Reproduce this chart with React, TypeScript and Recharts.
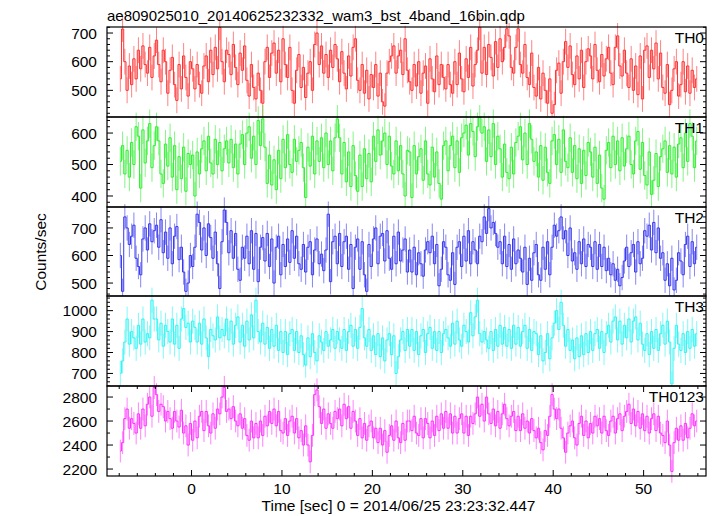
import { LineChart, Line, XAxis, YAxis, ErrorBar } from "recharts";

// 0.25 s bins from -8 s to 56 s (256 per band)
const N_BINS = 256;
const BIN = 0.25;
const TIME = Array.from({ length: N_BINS }, (_, i) => -8 + BIN * i + BIN / 2);

const TH0 = [
  540, 714, 600, 500, 585, 520, 610, 540, 640, 575, 655, 590, 560, 650, 545, 620,
  675, 590, 530, 640, 600, 490, 570, 615, 520, 465, 590, 505, 620, 545, 480, 600,
  575, 505, 590, 520, 490, 585, 620, 530, 640, 555, 650, 575, 720, 600, 530, 640,
  625, 555, 660, 580, 520, 630, 570, 655, 535, 480, 590, 510, 470, 560, 500, 455,
  600, 650, 545, 630, 665, 560, 640, 530, 680, 590, 545, 650, 500, 455, 570, 625,
  510, 580, 475, 560, 600, 500, 660, 700, 590, 655, 560, 625, 545, 640, 580, 660,
  610, 530, 635, 560, 505, 620, 550, 650, 680, 535, 500, 590, 490, 570, 470, 555,
  510, 590, 480, 560, 460, 445, 560, 600, 620, 655, 560, 620, 640, 555, 680, 570,
  530, 500, 590, 515, 600, 490, 560, 585, 455, 610, 540, 495, 620, 520, 590, 545,
  505, 590, 520, 490, 600, 520, 630, 540, 495, 610, 545, 650, 515, 590, 640, 720,
  560, 650, 555, 660, 615, 550, 670, 580, 680, 600, 650, 715, 690, 580, 560, 650,
  715, 590, 560, 660, 545, 520, 630, 510, 480, 580, 470, 560, 500, 455, 540, 420,
  450, 570, 595, 490, 600, 670, 580, 655, 555, 520, 620, 540, 640, 510, 600, 645,
  620, 540, 660, 570, 530, 625, 550, 610, 650, 560, 520, 650, 690, 585, 550, 640,
  560, 510, 610, 500, 585, 485, 620, 470, 640, 655, 545, 640, 575, 665, 540, 630,
  510, 490, 590, 450, 500, 575, 600, 480, 520, 600, 495, 585, 490, 570, 510, 540,
];

const TH1 = [
  510, 560, 470, 545, 460, 570, 500, 620, 590, 425, 610, 505, 575, 630, 490, 560,
  620, 575, 470, 440, 565, 495, 585, 460, 560, 420, 525, 455, 555, 415, 535, 500,
  530, 400, 540, 470, 550, 575, 480, 590, 505, 470, 580, 500, 570, 480, 550, 575,
  505, 580, 490, 565, 470, 565, 595, 500, 600, 620, 520, 590, 500, 640, 560, 645,
  555, 440, 530, 435, 515, 420, 545, 455, 580, 490, 595, 500, 475, 580, 510, 545,
  570, 490, 395, 555, 495, 590, 470, 575, 510, 585, 490, 600, 500, 575, 480, 585,
  645, 585, 470, 570, 445, 540, 430, 560, 465, 415, 530, 430, 550, 455, 535, 445,
  590, 510, 610, 530, 575, 600, 500, 590, 495, 470, 575, 480, 560, 470, 400, 545,
  540, 395, 560, 470, 525, 550, 450, 575, 470, 435, 555, 460, 540, 440, 390, 560,
  575, 480, 560, 590, 490, 575, 475, 585, 600, 625, 530, 630, 605, 525, 620, 650,
  600, 620, 510, 610, 525, 630, 500, 590, 550, 460, 565, 475, 455, 555, 470, 570,
  590, 620, 515, 600, 500, 630, 580, 510, 540, 460, 560, 450, 555, 475, 440, 575,
  595, 500, 580, 475, 610, 510, 490, 585, 475, 560, 455, 550, 440, 545, 465, 570,
  540, 460, 555, 440, 530, 425, 390, 545, 570, 490, 590, 500, 575, 480, 585, 495,
  550, 590, 500, 470, 575, 605, 485, 570, 465, 435, 540, 405, 450, 535, 430, 525,
  550, 575, 475, 560, 470, 555, 460, 565, 585, 490, 600, 510, 630, 590, 490, 575,
];

const TH2 = [
  600, 470, 740, 700, 640, 670, 710, 590, 560, 530, 660, 700, 620, 715, 650, 690,
  710, 630, 730, 610, 685, 590, 700, 570, 670, 705, 585, 630, 540, 470, 500, 600,
  560, 630, 750, 720, 620, 700, 600, 715, 665, 590, 685, 570, 480, 650, 765, 720,
  610, 690, 590, 680, 550, 510, 630, 590, 670, 570, 690, 550, 680, 505, 630, 665,
  580, 680, 560, 660, 500, 630, 670, 530, 640, 560, 660, 575, 690, 590, 670, 570,
  550, 640, 540, 630, 650, 530, 620, 660, 570, 605, 545, 620, 750, 505, 650, 670,
  570, 680, 560, 650, 670, 550, 640, 480, 630, 660, 550, 650, 530, 470, 640, 560,
  660, 700, 570, 670, 680, 580, 690, 590, 550, 670, 570, 685, 580, 620, 660, 540,
  620, 540, 630, 530, 610, 570, 525, 620, 650, 610, 670, 570, 640, 490, 550, 650,
  630, 530, 510, 610, 495, 630, 650, 560, 670, 580, 690, 570, 650, 620, 570, 670,
  650, 740, 680, 770, 700, 720, 680, 630, 650, 570, 670, 560, 640, 550, 660, 570,
  620, 590, 540, 630, 495, 590, 510, 610, 640, 530, 510, 630, 550, 650, 530, 630,
  710, 670, 690, 740, 660, 690, 600, 700, 580, 610, 550, 650, 570, 660, 560, 640,
  630, 560, 650, 550, 640, 560, 630, 545, 590, 530, 570, 510, 550, 490, 520, 580,
  630, 560, 610, 640, 540, 650, 570, 590, 690, 670, 710, 620, 720, 610, 700, 590,
  610, 510, 570, 490, 590, 475, 510, 610, 580, 530, 640, 670, 560, 650, 570, 630,
];

const TH3 = [
  700, 760, 850, 960, 840, 900, 870, 820, 930, 840, 960, 850, 890, 870, 1050, 960,
  960, 860, 940, 830, 930, 900, 850, 960, 840, 930, 820, 960, 1010, 920, 940, 850,
  950, 920, 850, 940, 840, 960, 870, 780, 910, 880, 860, 970, 870, 910, 880, 960,
  860, 950, 840, 930, 970, 850, 930, 830, 950, 860, 980, 870, 1050, 900, 850, 940,
  840, 920, 820, 910, 830, 930, 810, 900, 800, 900, 790, 890, 910, 810, 900, 800,
  880, 790, 740, 870, 780, 890, 800, 760, 880, 850, 810, 900, 830, 860, 910, 820,
  900, 860, 820, 910, 810, 900, 930, 830, 910, 820, 920, 1010, 870, 830, 910, 810,
  880, 790, 890, 780, 870, 760, 860, 890, 790, 880, 700, 780, 860, 900, 810, 910,
  830, 910, 810, 900, 790, 880, 910, 800, 890, 920, 820, 900, 810, 900, 800, 890,
  910, 870, 830, 940, 840, 950, 860, 830, 930, 900, 850, 990, 880, 970, 1050, 890,
  850, 900, 860, 820, 900, 810, 910, 830, 930, 840, 920, 830, 910, 820, 930, 840,
  920, 830, 900, 930, 820, 910, 810, 900, 890, 790, 880, 760, 800, 890, 770, 870,
  940, 1000, 910, 1040, 930, 830, 910, 810, 860, 770, 870, 780, 880, 790, 890, 800,
  900, 810, 890, 910, 820, 900, 800, 890, 930, 850, 950, 970, 860, 950, 840, 930,
  870, 960, 850, 950, 970, 860, 940, 840, 810, 890, 790, 900, 820, 910, 810, 890,
  930, 840, 950, 850, 650, 820, 930, 840, 810, 890, 800, 900, 820, 910, 830, 890,
];

const TH0123 = [
  2350, 2420, 2620, 2700, 2540, 2620, 2580, 2500, 2660, 2540, 2700, 2560, 2740, 2800, 2640, 2880,
  2820, 2680, 2740, 2720, 2600, 2680, 2620, 2540, 2680, 2600, 2550, 2690, 2500, 2560, 2400, 2580,
  2440, 2600, 2460, 2640, 2680, 2520, 2680, 2560, 2500, 2660, 2540, 2700, 2660, 2800, 2880, 2680,
  2700, 2620, 2720, 2600, 2560, 2660, 2540, 2620, 2480, 2440, 2600, 2460, 2580, 2460, 2600, 2480,
  2640, 2560, 2680, 2580, 2700, 2560, 2680, 2520, 2500, 2620, 2480, 2600, 2640, 2500, 2620, 2460,
  2520, 2400, 2560, 2400, 2260, 2480, 2820, 2860, 2720, 2580, 2700, 2540, 2660, 2580, 2540, 2680,
  2620, 2700, 2560, 2740, 2620, 2720, 2540, 2680, 2600, 2480, 2620, 2460, 2580, 2440, 2560, 2600,
  2460, 2540, 2420, 2540, 2400, 2520, 2340, 2480, 2560, 2440, 2600, 2460, 2420, 2580, 2440, 2600,
  2600, 2520, 2640, 2500, 2480, 2620, 2460, 2620, 2580, 2460, 2600, 2480, 2640, 2520, 2660, 2540,
  2680, 2540, 2660, 2500, 2640, 2500, 2620, 2660, 2500, 2640, 2480, 2640, 2580, 2660, 2800, 2640,
  2740, 2600, 2800, 2660, 2580, 2700, 2560, 2680, 2540, 2660, 2740, 2620, 2560, 2640, 2680, 2520,
  2640, 2520, 2660, 2540, 2600, 2500, 2620, 2520, 2460, 2540, 2420, 2360, 2520, 2480, 2640, 2820,
  2700, 2620, 2700, 2540, 2460, 2340, 2500, 2560, 2600, 2460, 2400, 2580, 2640, 2480, 2600, 2460,
  2580, 2500, 2640, 2560, 2620, 2500, 2640, 2520, 2480, 2600, 2640, 2500, 2620, 2660, 2520, 2640,
  2680, 2740, 2580, 2700, 2560, 2680, 2540, 2660, 2520, 2640, 2500, 2620, 2660, 2520, 2640, 2500,
  2480, 2420, 2600, 2400, 2180, 2420, 2540, 2440, 2560, 2440, 2580, 2460, 2540, 2660, 2560, 2600,
];

// 1-sigma errors (counts/sec) per band
const ERRORS = [45, 45, 46, 60, 95];
const LABELS = ["TH0", "TH1", "TH2", "TH3", "TH0123"];
const COLORS = ["#ff3030", "#30ee30", "#3636ee", "#30f4f4", "#ff30ff"];
const SERIES = [TH0, TH1, TH2, TH3, TH0123];

const Y_DOMAINS: [number, number][] = [
  [407, 721],
  [365, 651],
  [453, 776],
  [640, 1070],
  [2142, 2892],
];
const Y_MAJOR = [
  [500, 600, 700],
  [400, 500, 600],
  [500, 600, 700],
  [700, 800, 900, 1000],
  [2200, 2400, 2600, 2800],
];
const Y_MINOR_STEP = [20, 20, 20, 20, 100];
const X_MAJOR = [0, 10, 20, 30, 40, 50];
const X_DOMAIN: [number, number] = [-9.35, 56.9];

const PANEL_TOPS = [27, 117, 207, 296, 386];
const PANEL_H = [90, 90, 89, 90, 90];
const PAD = 12; // room above each plot so tick labels are not clipped
const PLOT_LEFT = 107;
const PLOT_W = 599;
const FONT = "'Liberation Sans', Arial, Helvetica, sans-serif";

function minorTicks(lo: number, hi: number, step: number) {
  const out: number[] = [];
  for (let v = Math.ceil(lo / step) * step; v <= hi; v += step) out.push(v);
  return out;
}

const X_TICKS = minorTicks(-9, 56.9, 2);

const XTick = (props: any) => {
  const { x, y, payload, plotH, showLabel } = props;
  const v = payload.value;
  const major = X_MAJOR.includes(v);
  const len = major ? 6 : 3;
  return (
    <g>
      <line x1={x} x2={x} y1={y} y2={y - len} stroke="#000" strokeWidth={1} />
      <line x1={x} x2={x} y1={y - plotH} y2={y - plotH + len} stroke="#000" strokeWidth={1} />
      {showLabel && major && (
        <text x={x} y={y + 17.5} textAnchor="middle" fontSize={15.5} fontFamily={FONT} fill="#000">
          {v}
        </text>
      )}
    </g>
  );
};

const YTick = (props: any) => {
  const { x, y, payload, majors } = props;
  const v = payload.value;
  const major = majors.includes(v);
  const len = major ? 6 : 3;
  return (
    <g>
      <line x1={x} x2={x + len} y1={y} y2={y} stroke="#000" strokeWidth={1} />
      <line x1={x + PLOT_W} x2={x + PLOT_W - len} y1={y} y2={y} stroke="#000" strokeWidth={1} />
      {major && (
        <text x={x - 10} y={y} dy="0.36em" textAnchor="end" fontSize={15.5} fontFamily={FONT} fill="#000">
          {v}
        </text>
      )}
    </g>
  );
};

function Panel({ idx }: { idx: number }) {
  const last = idx === SERIES.length - 1;
  const h = PANEL_H[idx];
  const axisH = last ? 40 : 0;
  const data = TIME.map((t, i) => ({ t, v: SERIES[idx][i], e: ERRORS[idx] }));
  const [lo, hi] = Y_DOMAINS[idx];
  const yTicks = minorTicks(lo, hi, Y_MINOR_STEP[idx]);
  return (
    <div style={{ position: "absolute", left: 0, top: PANEL_TOPS[idx] - PAD }}>
      <LineChart width={717} height={h + axisH + PAD} data={data} margin={{ top: PAD, right: 11, bottom: 0, left: 0 }}>
        <XAxis
          dataKey="t"
          type="number"
          domain={X_DOMAIN}
          allowDataOverflow
          ticks={X_TICKS}
          interval={0}
          height={axisH}
          axisLine={false}
          tickLine={false}
          tickSize={0}
          tickMargin={0}
          tick={(p: any) => <XTick {...p} plotH={h} showLabel={last} />}
        />
        <YAxis
          type="number"
          domain={[lo, hi]}
          allowDataOverflow
          ticks={yTicks}
          interval={0}
          width={PLOT_LEFT}
          axisLine={false}
          tickLine={false}
          tickSize={0}
          tickMargin={0}
          tick={(p: any) => <YTick {...p} majors={Y_MAJOR[idx]} />}
        />
        <Line
          type="step"
          dataKey="v"
          stroke={COLORS[idx]}
          strokeWidth={1}
          dot={false}
          isAnimationActive={false}
        >
          <ErrorBar
            dataKey="e"
            direction="y"
            width={0}
            stroke={COLORS[idx]}
            strokeOpacity={0.6}
            strokeWidth={1}
            isAnimationActive={false}
          />
        </Line>
      </LineChart>
    </div>
  );
}

export default function App() {
  return (
    <div style={{ position: "absolute", left: 0, top: 0, width: 717, height: 516, background: "#fff" }}>
      {SERIES.map((_, i) => (
        <Panel key={i} idx={i} />
      ))}
      <svg width={717} height={516} style={{ position: "absolute", left: 0, top: 0, pointerEvents: "none" }}>
        {PANEL_TOPS.map((top, i) => (
          <rect key={i} x={PLOT_LEFT} y={top} width={PLOT_W} height={PANEL_H[i]} fill="none" stroke="#000" strokeWidth={1.2} />
        ))}
        {LABELS.map((lab, i) => (
          <text key={lab} x={704} y={PANEL_TOPS[i] + 15.5} textAnchor="end" fontSize={15.5} fontFamily={FONT} fill="#000">
            {lab}
          </text>
        ))}
        <text x={107} y={20.5} fontSize={15} fontFamily={FONT} fill="#000">
          ae809025010_20140625232332_wam3_bst_4band_16bin.qdp
        </text>
        <text x={398.5} y={510.5} textAnchor="middle" fontSize={15.5} fontFamily={FONT} fill="#000">
          Time [sec] 0 = 2014/06/25 23:23:32.447
        </text>
        <text
          x={46}
          y={252}
          textAnchor="middle"
          fontSize={15.5}
          fontFamily={FONT}
          fill="#000"
          transform="rotate(-90 46 252)"
        >
          Counts/sec
        </text>
      </svg>
    </div>
  );
}
